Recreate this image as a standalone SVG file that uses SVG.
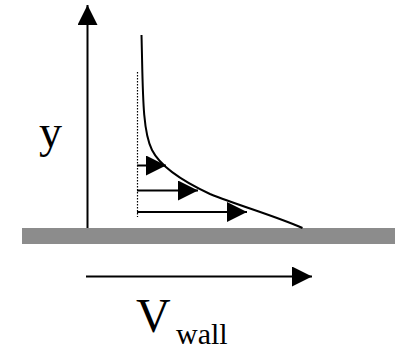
<svg xmlns="http://www.w3.org/2000/svg" width="395" height="349" viewBox="0 0 395 349">
<style>
.ln{stroke:#000;stroke-width:2;fill:none}
.t{font-family:"Liberation Serif","Times New Roman",serif;fill:#000}
</style>
<defs>
<marker id="ah" viewBox="0 0 20 20" refX="20" refY="10" markerWidth="20" markerHeight="20" markerUnits="userSpaceOnUse" orient="auto">
<path d="M0,0 L20,10 L0,20 Z" fill="#000"/>
</marker>
</defs>
<rect id="wall" x="22" y="228" width="373" height="16" fill="#8c8c8c"/>
<g id="connectors">
<line class="ln" x1="87.5" y1="228" x2="87.5" y2="5" marker-end="url(#ah)"/>
<line class="ln" x1="86" y1="276.5" x2="312" y2="276.5" marker-end="url(#ah)"/>
<line class="ln" x1="137" y1="165.5" x2="166" y2="165.5" marker-end="url(#ah)"/>
<line class="ln" x1="137" y1="190.5" x2="198" y2="190.5" marker-end="url(#ah)"/>
<line class="ln" x1="137" y1="212" x2="247" y2="212" marker-end="url(#ah)"/>
</g>
<g id="profile">
<line x1="137.5" y1="72" x2="137.5" y2="217" stroke="#000" stroke-width="1.2" stroke-dasharray="1.5,1.5"/>
<path class="ln" d="M141.5,35 C143,90 142,130 152,150 C160,166 180,180 210,194 C240,206 275,216 302.5,228"/>
</g>
<g id="labels">
<text class="t" x="39" y="147" font-size="46">y</text>
<text class="t" x="136" y="332" font-size="48">V</text>
<text class="t" x="176" y="344" font-size="30">wall</text>
</g>
</svg>
